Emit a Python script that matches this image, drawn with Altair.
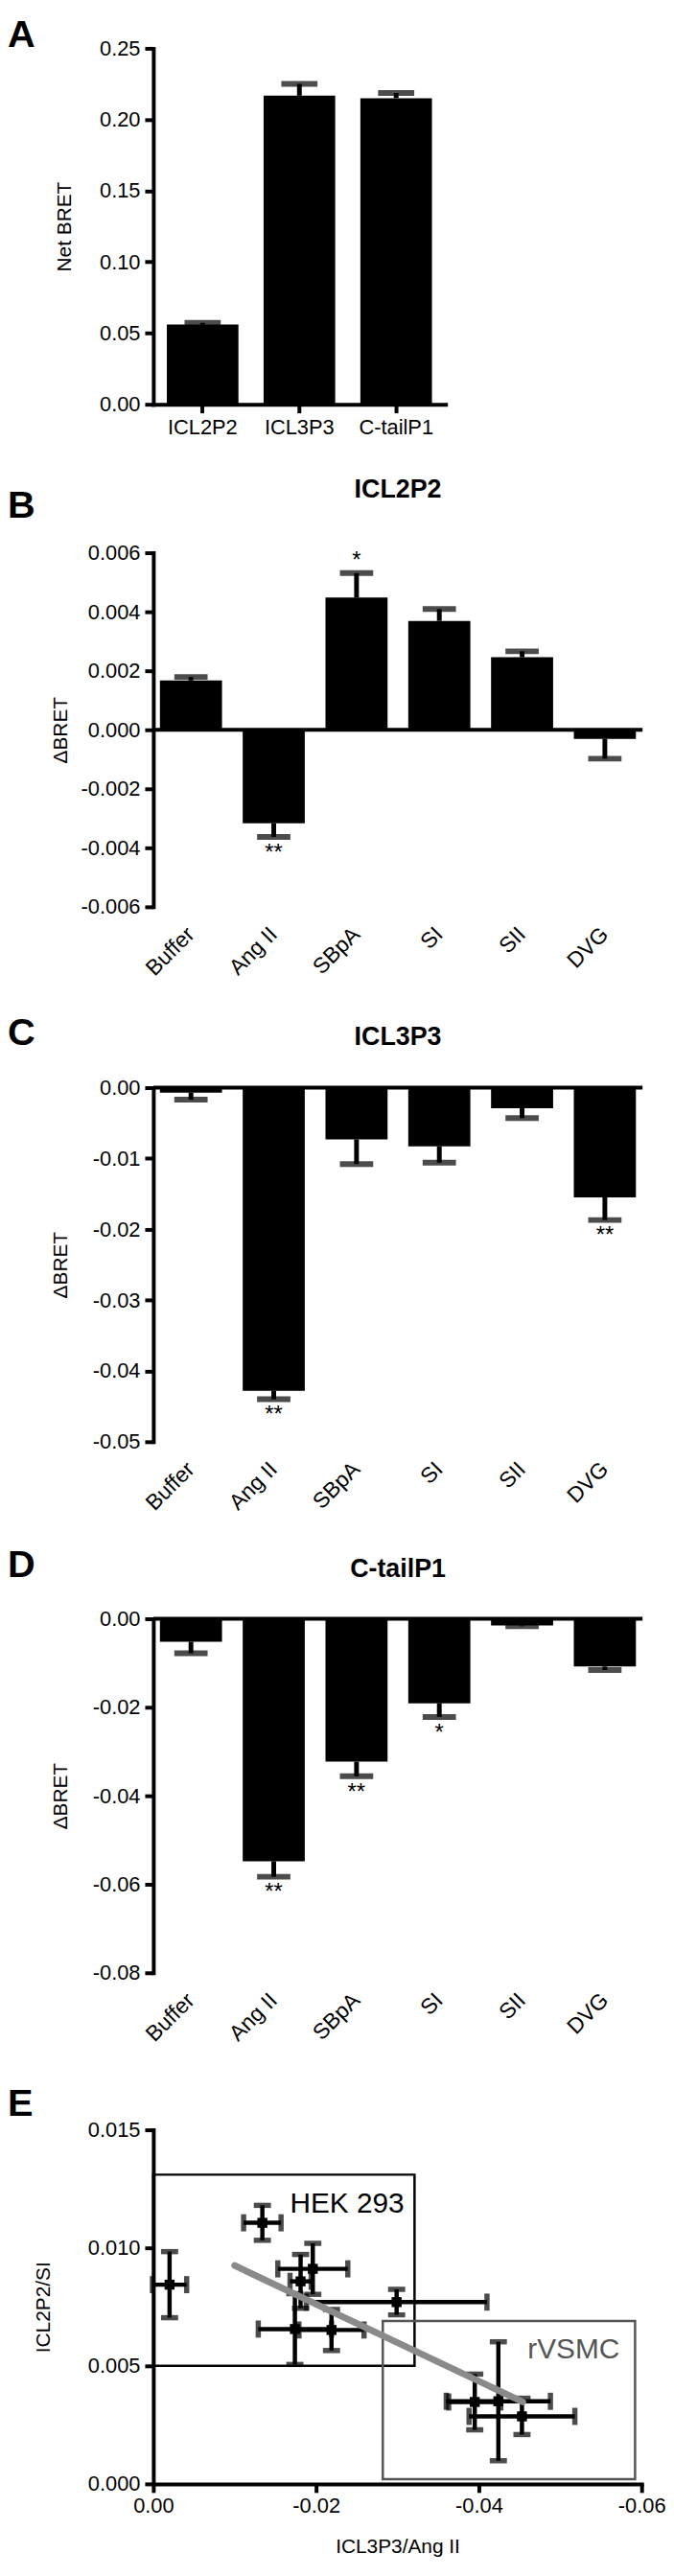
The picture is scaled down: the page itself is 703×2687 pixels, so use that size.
import altair as alt
import pandas as pd

FONT = "Liberation Sans"

# ---------------- Panel A ----------------
a_cats = ["ICL2P2", "ICL3P3", "C-tailP1"]
a_vals = [0.0560, 0.2167, 0.2150]
a_errs = [0.0012, 0.0083, 0.0036]
a_ticks = [0.0, 0.05, 0.10, 0.15, 0.20, 0.25]

# ---------------- Panels B-D ----------------
treatments = ["Buffer", "Ang II", "SBpA", "SI", "SII", "DVG"]

b_vals = [0.00167, -0.00317, 0.00448, 0.00369, 0.00246, -0.00031]
b_errs = [0.00012, 0.00046, 0.00083, 0.00040, 0.00020, 0.00067]
b_sig = ["", "**", "*", "", "", ""]
b_ticks = [-0.006, -0.004, -0.002, 0.0, 0.002, 0.004, 0.006]

c_vals = [-0.0007, -0.0428, -0.0073, -0.0083, -0.0029, -0.0155]
c_errs = [0.0010, 0.0012, 0.0035, 0.0023, 0.0014, 0.0032]
c_sig = ["", "**", "", "", "", "**"]
c_ticks = [-0.05, -0.04, -0.03, -0.02, -0.01, 0.0]

d_vals = [-0.0052, -0.0548, -0.0323, -0.0191, -0.0015, -0.0108]
d_errs = [0.0026, 0.0035, 0.0033, 0.0031, 0.0002, 0.0008]
d_sig = ["", "**", "**", "*", "", ""]
d_ticks = [-0.08, -0.06, -0.04, -0.02, 0.0]

# ---------------- Panel E ----------------
e_x = [-0.0020, -0.0134, -0.0196, -0.0181, -0.0299, -0.0174, -0.0219, -0.0395, -0.0424, -0.0453]
e_xerr = [0.0021, 0.0023, 0.0043, 0.0013, 0.0111, 0.0045, 0.0040, 0.0032, 0.0064, 0.0065]
e_y = [0.00844, 0.01106, 0.00911, 0.00858, 0.00770, 0.00656, 0.00652, 0.00347, 0.00350, 0.00286]
e_yerr = [0.00140, 0.00074, 0.00108, 0.00114, 0.00054, 0.00150, 0.00087, 0.00118, 0.00252, 0.00077]
e_xticks = [0.0, -0.02, -0.04, -0.06]
e_yticks = [0.0, 0.005, 0.010, 0.015]

box_names = ["HEK 293", "rVSMC"]
box_x1 = [0.0, -0.0282]
box_x2 = [-0.0321, -0.0592]
box_y1 = [0.0050, 0.0002]
box_y2 = [0.0131, 0.0069]
box_colors = ["#000000", "#555555"]
label_x = [-0.0168, -0.0460]
label_y = [0.01149, 0.00532]

fit_x = [-0.0100, -0.0454]
fit_y = [0.00925, 0.00347]


def lab(fmt):
    return f"(datum.value < -1e-12 ? '-' : '') + format(abs(datum.value), '{fmt}')"


def y_axis(title, ticks, fmt, title_x):
    return alt.Axis(
        title=title, values=ticks, labelExpr=lab(fmt), grid=False,
        domainWidth=4, domainColor="black", domainCap="square",
        tickWidth=4, tickColor="black", tickSize=9,
        labelPadding=5, labelFontSize=22, labelColor="black", labelFont=FONT,
        labelFlush=False, labelOverlap=False,
        titleFontSize=21, titleFontWeight="normal", titleColor="black",
        titleFont=FONT, titleX=title_x,
    )


def text_layer(txt, x, y, size, bold, align="left"):
    return alt.Chart(pd.DataFrame({"t": [txt]})).mark_text(
        font=FONT, fontSize=size, fontWeight="bold" if bold else "normal",
        align=align, baseline="alphabetic", color="black",
    ).encode(text="t:N", x=alt.value(x), y=alt.value(y))


def bar_panel(cats, vals, errs, sigs, ticks, fmt, ytitle, title_x, letter,
              letter_y, title, title_y, width, height, rotated, cap):
    df = pd.DataFrame({"cat": cats, "val": vals, "err": errs, "sig": sigs})
    df["end"] = [v + (e if v >= 0 else -e) for v, e in zip(vals, errs)]
    ysc = alt.Scale(domain=[min(ticks), max(ticks)], nice=False, zero=False)
    if rotated:
        xaxis = alt.Axis(title=None, domain=False, ticks=False, tickSize=0,
                         labelAngle=-45, labelAlign="right", labelBaseline="middle",
                         labelPadding=25, labelFontSize=23, labelColor="black",
                         labelFont=FONT)
        xsc = alt.Scale(paddingInner=0.25, paddingOuter=0.08)
    else:
        xaxis = alt.Axis(title=None, domainWidth=4, domainColor="black",
                         domainCap="square", tickWidth=4, tickColor="black",
                         tickSize=9, labelAngle=0, labelPadding=5,
                         labelFontSize=22, labelColor="black", labelFont=FONT)
        xsc = alt.Scale(paddingInner=0.26, paddingOuter=0.14)
    xenc = alt.X("cat:N", sort=cats, scale=xsc, axis=xaxis)
    xplain = alt.X("cat:N", sort=cats)
    base = alt.Chart(df)
    bars = base.mark_bar(color="black").encode(
        x=xenc, y=alt.Y("val:Q", scale=ysc, axis=y_axis(ytitle, ticks, fmt, title_x)),
        y2=alt.datum(0))
    stems = base.mark_rule(color="black", strokeWidth=5).encode(
        x=xplain, y="val:Q", y2="end:Q")
    caps = base.mark_tick(color="black", thickness=6, size=cap,
                          orient="horizontal").encode(x=xplain, y="end:Q")
    sig_neg = base.transform_filter("datum.val < 0").mark_text(
        font=FONT, fontSize=24, baseline="top", dy=5, color="black").encode(
        x=xplain, y="end:Q", text="sig:N")
    sig_pos = base.transform_filter("datum.val >= 0").mark_text(
        font=FONT, fontSize=24, baseline="alphabetic", dy=-6, color="black").encode(
        x=xplain, y="end:Q", text="sig:N")
    layers = [bars, stems, caps, sig_neg, sig_pos]
    if rotated:
        zero = alt.Chart(pd.DataFrame({"z": [0]})).mark_rule(
            color="black", strokeWidth=4).encode(y=alt.datum(0))
        layers.append(zero)
    layers.append(text_layer(letter, -153, letter_y, 40, True))
    if title:
        layers.append(text_layer(title, width / 2, title_y, 27, True, "center"))
    return alt.layer(*layers).properties(width=width, height=height)


def spacer(h):
    return alt.Chart(pd.DataFrame({"s": [0]})).mark_point(opacity=0).encode(
        x=alt.value(0), y=alt.value(0)).properties(width=10, height=h)


panel_a = bar_panel(a_cats, a_vals, a_errs, ["", "", ""], a_ticks, ".2f",
                    "Net BRET", -83, "A", -1, None, 0, 307, 374, False, 38)
panel_b = bar_panel(treatments, b_vals, b_errs, b_sig, b_ticks, ".3f",
                    "\u0394BRET", -87, "B", -37, "ICL2P2", -58, 514, 372, True, 35)
panel_c = bar_panel(treatments, c_vals, c_errs, c_sig, c_ticks, ".2f",
                    "\u0394BRET", -87, "C", -45, "ICL3P3", -45, 514, 372, True, 35)
panel_d = bar_panel(treatments, d_vals, d_errs, d_sig, d_ticks, ".2f",
                    "\u0394BRET", -87, "D", -44, "C-tailP1", -44, 514, 372, True, 35)

# ---------------- Panel E chart ----------------
e_df = pd.DataFrame({"x": e_x, "xerr": e_xerr, "y": e_y, "yerr": e_yerr})
e_df["x_lo"] = e_df["x"] - e_df["xerr"]
e_df["x_hi"] = e_df["x"] + e_df["xerr"]
e_df["y_lo"] = e_df["y"] - e_df["yerr"]
e_df["y_hi"] = e_df["y"] + e_df["yerr"]

box_df = pd.DataFrame({"name": box_names, "x1": box_x1, "x2": box_x2,
                       "y1": box_y1, "y2": box_y2})
lab_df = pd.DataFrame({"name": box_names, "lx": label_x, "ly": label_y})
fit_df = pd.DataFrame({"fx": fit_x, "fy": fit_y})

xs = alt.Scale(domain=[0, -0.06], nice=False, zero=False)
ys = alt.Scale(domain=[0, 0.015], nice=False, zero=False)
col_scale = alt.Scale(domain=box_names, range=box_colors)

e_xaxis = alt.Axis(
    title="ICL3P3/Ang II", values=e_xticks, labelExpr=lab(".2f"), grid=False,
    domainWidth=4, domainColor="black", domainCap="square",
    tickWidth=4, tickColor="black", tickSize=9, labelPadding=4,
    labelFontSize=22, labelColor="black", labelFont=FONT, labelFlush=False,
    titleFontSize=21, titleFontWeight="normal", titleColor="black",
    titleFont=FONT, titlePadding=21)

boxes = alt.Chart(box_df).mark_rect(fill="transparent", strokeWidth=2.5).encode(
    x=alt.X("x1:Q", scale=xs, axis=e_xaxis),
    x2="x2:Q",
    y=alt.Y("y1:Q", scale=ys, axis=y_axis("ICL2P2/SI", e_yticks, ".3f", -105)),
    y2="y2:Q",
    stroke=alt.Stroke("name:N", scale=col_scale, legend=None))
eb = alt.Chart(e_df)
hbars = eb.mark_rule(color="black", strokeWidth=4.5).encode(
    x="x_lo:Q", x2="x_hi:Q", y="y:Q")
vbars = eb.mark_rule(color="black", strokeWidth=4.5).encode(
    x="x:Q", y="y_lo:Q", y2="y_hi:Q")
cap_kw = dict(color="black", thickness=5.5, size=18)
xcap_lo = eb.mark_tick(orient="vertical", **cap_kw).encode(x="x_lo:Q", y="y:Q")
xcap_hi = eb.mark_tick(orient="vertical", **cap_kw).encode(x="x_hi:Q", y="y:Q")
ycap_lo = eb.mark_tick(orient="horizontal", **cap_kw).encode(x="x:Q", y="y_lo:Q")
ycap_hi = eb.mark_tick(orient="horizontal", **cap_kw).encode(x="x:Q", y="y_hi:Q")
pts = eb.mark_square(size=110, color="black", opacity=1).encode(x="x:Q", y="y:Q")
fit = alt.Chart(fit_df).mark_line(color="#8a8a8a", strokeWidth=7,
                                  strokeCap="round").encode(x="fx:Q", y="fy:Q")
labels = alt.Chart(lab_df).mark_text(
    font=FONT, fontSize=30, align="left", baseline="alphabetic").encode(
    x="lx:Q", y="ly:Q", text="name:N",
    color=alt.Color("name:N", scale=col_scale, legend=None))

panel_e = alt.layer(
    boxes, hbars, vbars, xcap_lo, xcap_hi, ycap_lo, ycap_hi, pts, fit, labels,
    text_layer("E", -153, -15, 40, True),
).properties(width=513, height=372)

chart = alt.vconcat(
    panel_a, spacer(156), panel_b, spacer(190), panel_c, spacer(186),
    panel_d, spacer(165), panel_e,
    spacing=0, bounds="flush",
).properties(padding=0).configure(font=FONT).configure_view(stroke=None)

chart.save("out.html", embed_options={"renderer": "svg", "actions": False})
